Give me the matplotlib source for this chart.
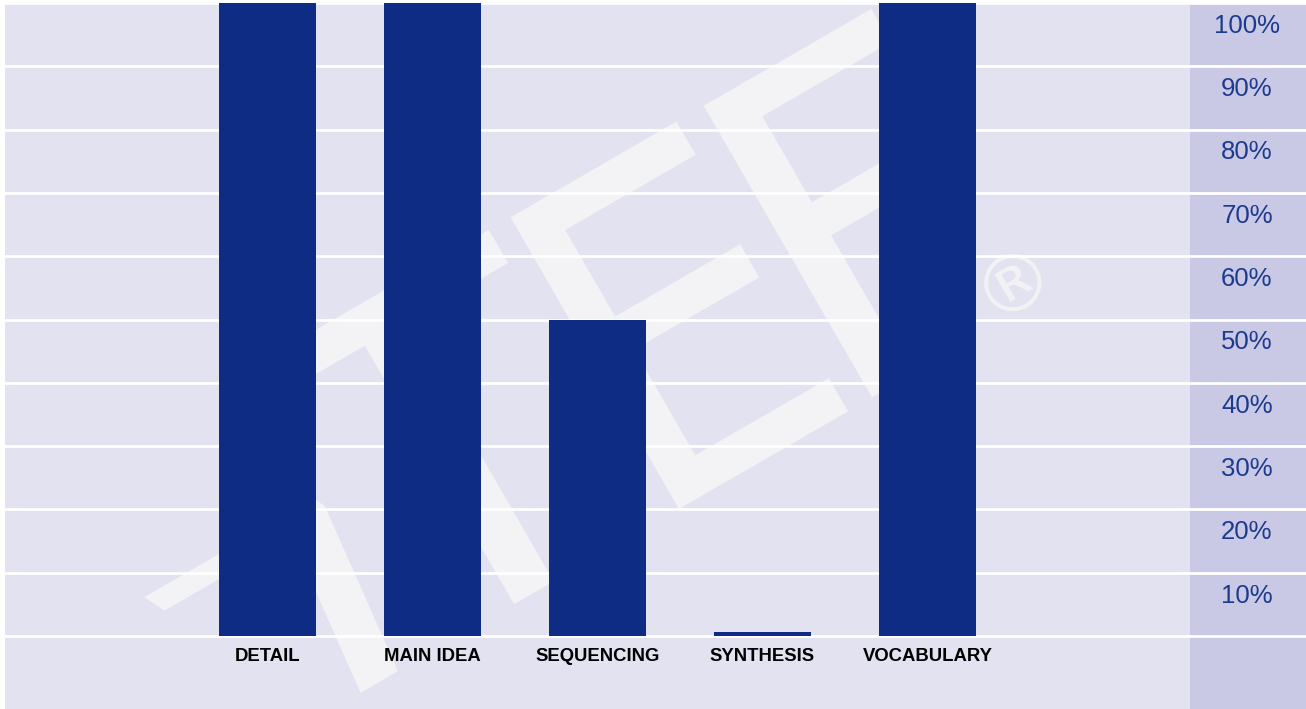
import matplotlib.pyplot as plt
from matplotlib.textpath import TextPath
from matplotlib.patches import PathPatch
from matplotlib.font_manager import FontProperties
from matplotlib.transforms import Affine2D, IdentityTransform

# skill categories and percentage scores
categories = ['DETAIL', 'MAIN IDEA', 'SEQUENCING', 'SYNTHESIS', 'VOCABULARY']
scores = [100, 100, 50, 0.6, 100]
tick_values = [10, 20, 30, 40, 50, 60, 70, 80, 90, 100]
tick_labels = ['10%', '20%', '30%', '40%', '50%', '60%', '70%', '80%', '90%', '100%']

bg = '#e2e2f0'
strip = '#cac9e5'
bar_colour = '#0e2c84'
label_colour = '#1c3a8e'
mark_colour = '#f3f3f5'

W, H = 1306, 709
fig = plt.figure(figsize=(W / 100, H / 100), dpi=100)
fig.patch.set_facecolor('white')
ax = fig.add_axes([5 / W, 0, 1 - 5 / W, (H - 3) / H])
ax.set_facecolor(bg)

# data limits picked so the bars land where the reference has them
x_left = (5 - 267.5) / 165
x_right = (1306 - 267.5) / 165
strip_start = (1190 - 267.5) / 165
ax.set_xlim(x_left, x_right)
ax.set_ylim(-11.53, 100)

ax.axvspan(strip_start, x_right, color=strip, zorder=0, lw=0)

# gridlines
for v in [0] + tick_values:
    ax.axhline(v, color='white', lw=2, zorder=2)


# faint "TEF" watermark, drawn letter by letter in pixel space
def watermark_glyph(ch, left, size, sx=1.0, shear=0, rot=30, origin=(530, 114)):
    tp = TextPath((0, 0), ch, size=size, prop=FontProperties(family='DejaVu Sans'))
    ext = tp.get_extents()
    tr = (Affine2D().translate(-ext.x0, 0).scale(sx, 1.0).skew_deg(shear, 0)
          .translate(left, 0).rotate_deg(rot).translate(*origin))
    patch = PathPatch(tr.transform_path(tp), facecolor=mark_colour, edgecolor='none',
                      transform=IdentityTransform(), zorder=1)
    ax.add_artist(patch)


watermark_glyph('T', -138, 462)
watermark_glyph('E', 172, 462, sx=0.9)
watermark_glyph('F', 395, 462)
watermark_glyph('7', -238, 262, sx=1.6, shear=-27)
ax.text(1014 / W, 1 - 283 / H, '\u00ae', transform=fig.transFigure, rotation=30,
        fontsize=57, family='DejaVu Sans', color=mark_colour,
        ha='center', va='center', zorder=1)

xs = list(range(len(categories)))
ax.bar(xs, scores, width=97 / 165, color=bar_colour, zorder=3)

for x, name in zip(xs, categories):
    ax.text(x, -3.3, name, ha='center', va='center', fontsize=13.3,
            fontweight='bold', family='Liberation Sans', color='black')

label_x = (1247 - 267.5) / 165
for v, lab in zip(tick_values, tick_labels):
    ax.text(label_x, v - 3.6, lab, ha='center', va='center', fontsize=18.5,
            family='Liberation Sans', color=label_colour, zorder=4)

for s in ax.spines.values():
    s.set_visible(False)
ax.set_xticks([])
ax.set_yticks([])

fig.savefig('out.png', dpi=100, facecolor=fig.get_facecolor())
